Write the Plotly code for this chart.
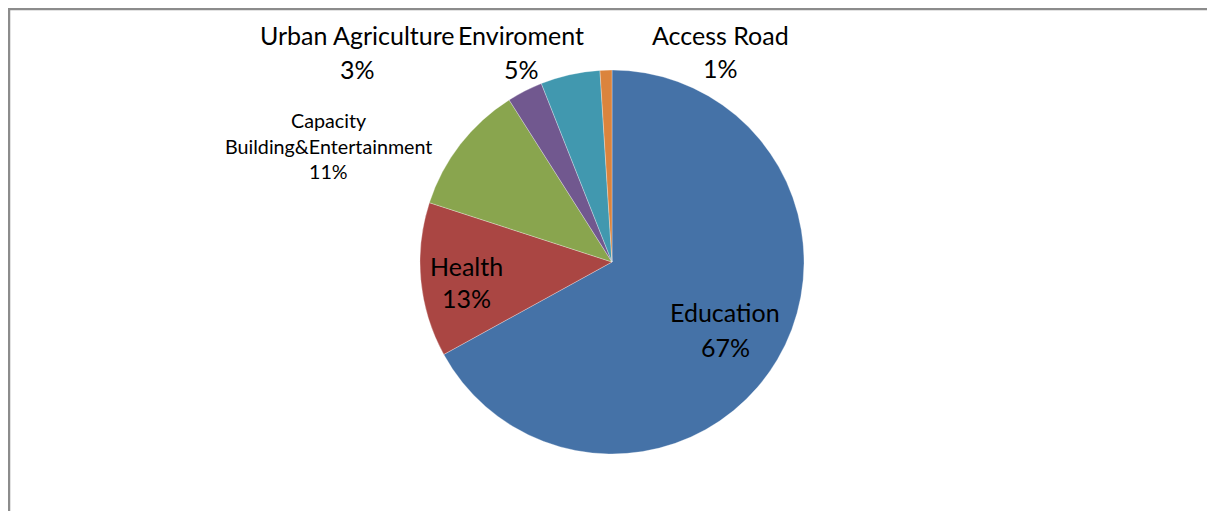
import plotly.graph_objects as go

# ---- data ----
labels = ["Education", "Health", "Capacity Building&Entertainment",
          "Urban Agriculture", "Enviroment", "Access Road"]
values = [67, 13, 11, 3, 5, 1]
colors = ["#4572A7", "#AA4643", "#89A54E", "#71588F", "#4198AF", "#DB843D"]

W, H = 1215, 511
OFF = 8  # page body margin offset
FONT = "Lato"

# label layout (page-pixel centres of each text line; positions only)
label_lines_pos = [
    [(725, 312), (725, 347)],
    [(466, 266), (466, 298)],
    [(329, 121), (329, 146), (329, 171)],
    [(357, 35), (357, 69)],
    [(521, 35), (521, 69)],
    [(720, 35), (720, 68)],
]
label_sizes = [25, 25, 19.7, 25, 25, 25]
wrap = [False, False, True, False, False, False]


def fx(px):
    return (px - OFF) / W


def fy(py):
    return 1 - (py - OFF) / H


fig = go.Figure(go.Pie(
    labels=labels, values=values, sort=False, direction="clockwise", rotation=0,
    marker=dict(colors=colors, line=dict(color="white", width=0.3)),
    textinfo="none", hoverinfo="label+percent", showlegend=False,
    domain=dict(x=[fx(420), fx(804)], y=[fy(454), fy(70)]),
))

total = sum(values)
annotations = []
for lab, val, pos, size, wr in zip(labels, values, label_lines_pos, label_sizes, wrap):
    lines = lab.split(" ", 1) if wr else [lab]
    lines = lines + [f"{round(100 * val / total)}%"]
    for text, (px, py) in zip(lines, pos):
        annotations.append(dict(
            text=text, x=fx(px), y=fy(py), xref="paper", yref="paper",
            xanchor="center", yanchor="middle", showarrow=False,
            font=dict(family=FONT, size=size, color="black"),
        ))

fig.update_layout(
    width=W, height=H, margin=dict(l=0, r=0, t=0, b=0),
    paper_bgcolor="white", plot_bgcolor="white",
    annotations=annotations,
    shapes=[dict(type="rect", xref="paper", yref="paper",
                 x0=1 / W, x1=1.05, y0=-0.05, y1=1 - 1 / H,
                 line=dict(color="#8c8c8c", width=2.5), fillcolor="rgba(0,0,0,0)")],
)

fig.write_html("out.html")
